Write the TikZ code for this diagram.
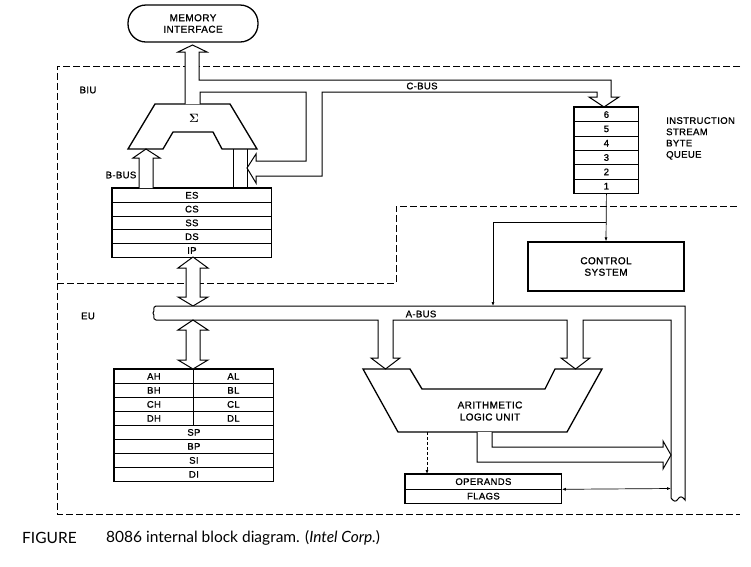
\documentclass[tikz,border=0pt]{standalone}
\usepackage{fontspec}
\setmainfont[LetterSpace=4,FakeBold=1.2]{Liberation Sans}
\newfontfamily\capfont{Lato}
\usetikzlibrary{arrows.meta}

\begin{document}
\begin{tikzpicture}[x=1pt,
y=-1pt,
every node/.style={
rectangle,
align = center,
inner sep=0pt,
font=\fontsize{9.5}{11}\selectfont,
},
box/.style={
draw,
line width=1.3pt,
},
row/.style={
draw,
line width=0.8pt,
anchor=north west,
},
bus/.style={
draw,
line width=1pt,
fill=white,
},
zone/.style={
line width=0.8pt,
dash pattern=on 7pt off 3pt,
},
tip/.style={
-{Latex[length=4pt,width=3pt]},
line width=0.7pt,
}]
\useasboundingbox (0,0) rectangle (751,566);

%BIU and EU zones
\draw[zone](740,66)--(57,66)--(57,514)--(740,514);
\draw[zone](57,283)--(396,283)--(396,206)--(740,206);
\node(biu)at(88,90){BIU};
\node(eu)at(88,316){EU};

%Memory interface
\node[box,rounded corners=18pt,minimum width=130pt,minimum height=37pt,font=\fontsize{10}{11.5}\selectfont](mem)at(193,23.5){MEMORY\\INTERFACE};

%Sigma adder
\draw[box](155,104)--(230,104)--(257,149)--(222,149)--(213,132)--(173,132)--(163,149)--(128,149)--cycle;
\node[font=\fontsize{12}{13}\selectfont\boldmath](sigma)at(194,118){$\Sigma$};

%C-bus, out to memory, to queue and back to sigma
\draw[bus](185,104)--(185,52)--(178,52)--(192.5,45)--(207,52)--(199,52)--(199,80)--(611,80)--(611,97)--(619,97)--(604,107)--(589,97)--(597,97)--(597,92)--(322,92)--(322,176)--(256,176)--(256,183)--(247,168)--(256,154)--(256,161)--(306,161)--(306,92)--(200,92)--(200,104);
\node(cbus)at(422,86){C-BUS};

%Segment registers
\foreach \r [count=\i from 0] in {ES,CS,SS,DS,IP}
\node[row,minimum width=159pt,minimum height=13.8pt](seg\i)at(112,188+13.8*\i){\r};
\draw[box](seg0.north west)rectangle(seg4.south east);

%B-bus and sigma inputs
\draw[bus](139,188)--(139,158)--(133,158)--(146,149)--(160,158)--(153,158)--(153,188);
\draw[line width=1pt](233,149)--(233,188) (247,149)--(247,188);
\node(bbus)at(121,175){B-BUS};

%Instruction queue
\foreach \n [count=\i from 0] in {6,5,4,3,2,1}
\node[row,minimum width=64pt,minimum height=14.33pt](q\n)at(574,107+14.33*\i){\n};
\draw[box](q6.north west)rectangle(q1.south east);
\node[anchor=north west,align=left,font=\fontsize{9.5}{11.3}\selectfont](iqlbl)at(666,117){INSTRUCTION\\STREAM\\BYTE\\QUEUE};

%Control system
\node[box,minimum width=156pt,minimum height=49pt,font=\fontsize{10}{11.5}\selectfont](ctrl)at(606,266.5){CONTROL\\SYSTEM};
\draw[tip](q1.south)--(ctrl.north);
\coordinate(qbr)at(606,222);
\coordinate(abr)at(493,306);
\draw[tip](qbr)-|(abr);

%IP to EU bus
\draw[bus](193,257)--(208,268)--(200,268)--(200,297)--(208,297)--(193,306)--(178,297)--(186,297)--(186,268)--(178,268)--cycle;

%EU bus (A-bus) into the ALU
\draw[bus](156,306)--(685,306)--(685,500).. controls (682,496) and (680,496) ..(678,499).. controls (676,502) and (674,502) ..(671,498)--(671,320)--(583,320)--(583,358)--(590,358)--(575.5,369)--(561,358)--(567,358)--(567,320)--(393,320)--(393,358)--(400,358)--(385.5,369)--(371,358)--(378,358)--(378,320)--(156,320).. controls (152,319) and (155,315) ..(153,313).. controls (155,311) and (152,307) ..cycle;
\node(abus)at(421,314){A-BUS};

%General registers
\foreach \h/\l [count=\i from 0] in {AH/AL,BH/BL,CH/CL,DH/DL}{
\node[row,minimum width=79pt,minimum height=14pt](\h)at(114,369+14*\i){\h};
\node[row,minimum width=80pt,minimum height=14pt](\l)at(193,369+14*\i){\l};
}
\foreach \r [count=\i from 4] in {SP,BP,SI,DI}
\node[row,minimum width=159pt,minimum height=14pt](\r)at(114,369+14*\i){\r};
\draw[box](AH.north west)rectangle(DI.south east);
\draw[bus](193,320)--(208,330)--(200,330)--(200,360)--(208,360)--(193,369)--(178,360)--(186,360)--(186,330)--(178,330)--cycle;

%ALU
\draw[box](363,369)--(410,369)--(422,389)--(545,389)--(555,369)--(602,369)--(567,432)--(398,432)--cycle;
\node[font=\fontsize{10}{12}\selectfont](alu)at(490,411){ARITHMETIC\\LOGIC UNIT};
\draw[bus](477,432)--(477,462)--(663,462)--(663,469)--(671,455)--(663,441)--(663,447)--(492,447)--(492,432);

%Operands and flags
\node[row,minimum width=156pt,minimum height=14.5pt](ops)at(405,474){OPERANDS};
\node[row,minimum width=156pt,minimum height=14.5pt](flg)at(405,488.5){FLAGS};
\draw[box](ops.north west)rectangle(flg.south east);
\coordinate(alub)at(427,432);
\draw[tip,dash pattern=on 3pt off 2pt](alub)--(alub|-ops.north);
\coordinate(busr)at(671,488.5);
\draw[{Latex[length=4pt,width=3pt]}-{Latex[length=4pt,width=3pt]},line width=0.7pt](ops.south east)--(busr);

%Caption
\node[anchor=west,font=\capfont\fontsize{15.5}{18}\selectfont](figlbl)at(22,538){FIGURE};
\node[anchor=west,font=\capfont\fontsize{15.5}{18}\selectfont](figcap)at(106,538){8086 internal block diagram. (\textit{Intel Corp.})};
\end{tikzpicture}
\end{document}
